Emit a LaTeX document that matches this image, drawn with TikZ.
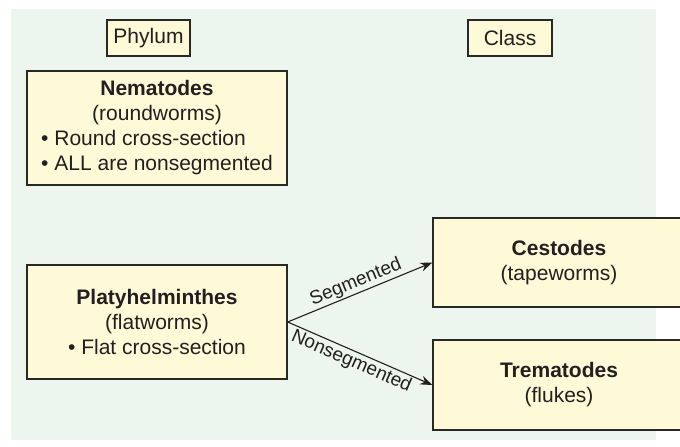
\documentclass[tikz,border=0pt]{standalone}
\usepackage{fontspec}
\setmainfont{Liberation Sans}
\usetikzlibrary{arrows.meta}
\definecolor{bggreen}{RGB}{236,246,239}
\definecolor{boxfill}{RGB}{254,249,215}
\definecolor{boxline}{RGB}{40,40,40}
\definecolor{txt}{RGB}{35,31,32}
\tikzset{
  box/.style={draw=boxline, fill=boxfill, line width=1.3pt, inner sep=0pt, text=txt,
    font=\fontsize{21}{25}\selectfont, align=center},
  lbl/.style={font=\fontsize{19}{21}\selectfont, text=txt, inner sep=1.5pt},
  arr/.style={draw=txt, line width=1.1pt, -{Stealth[length=12pt,width=9pt]}}
}
\begin{document}
\begin{tikzpicture}[x=1pt,y=-1pt]
\useasboundingbox (0,0) rectangle (680,447);
\clip (0,0) rectangle (680,447);
\fill[bggreen] (11,9) rectangle (656,440);
\node[box, minimum width=83pt, minimum height=36pt] (phylum) at (148.5,38) {Phylum};
\node[box, minimum width=84pt, minimum height=36pt] (class) at (510,38) {Class};
\node[box, minimum width=260pt, minimum height=114pt] (nem) at (157,128)
  {\begin{tabular}{@{}l@{}}\multicolumn{1}{@{}c@{}}{\textbf{Nematodes}}\\
   \multicolumn{1}{@{}c@{}}{(roundworms)}\\
   • Round cross-section\\
   • ALL are nonsegmented\end{tabular}};
\node[box, minimum width=260pt, minimum height=114pt] (platy) at (157,322)
  {\textbf{Platyhelminthes}\\(flatworms)\\• Flat cross-section};
\node[box, minimum width=252pt, minimum height=89pt] (cest) at (559,262.5)
  {\textbf{Cestodes}\\(tapeworms)};
\node[box, minimum width=252pt, minimum height=90pt] (trem) at (559,385)
  {\textbf{Trematodes}\\(flukes)};
\draw[arr] (platy.east) -- node[lbl, sloped, above, pos=0.5] (seg) {Segmented} (cest.west);
\draw[arr] (platy.east) -- node[lbl, sloped, below, pos=0.47] (nonseg) {Nonsegmented} (trem.west);
\end{tikzpicture}
\end{document}
